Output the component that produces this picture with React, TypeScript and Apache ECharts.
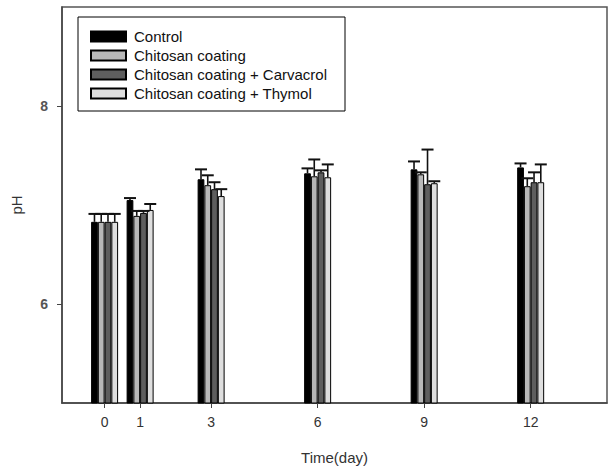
import React, { useEffect, useRef } from "react";
import * as echarts from "echarts";

const days = [0, 1, 3, 6, 9, 12];
const seriesNames = [
  "Control",
  "Chitosan coating",
  "Chitosan coating + Carvacrol",
  "Chitosan coating + Thymol",
];
const controlValues = [6.83, 7.05, 7.26, 7.32, 7.36, 7.38];
const controlErrors = [0.08, 0.02, 0.1, 0.05, 0.08, 0.04];
const chitosanValues = [6.83, 6.89, 7.2, 7.29, 7.31, 7.19];
const chitosanErrors = [0.08, 0.05, 0.1, 0.17, 0.02, 0.08];
const carvacrolValues = [6.83, 6.92, 7.16, 7.33, 7.21, 7.23];
const carvacrolErrors = [0.08, 0.02, 0.07, 0.02, 0.35, 0.1];
const thymolValues = [6.83, 6.95, 7.09, 7.28, 7.22, 7.23];
const thymolErrors = [0.08, 0.06, 0.07, 0.13, 0.02, 0.18];
const yTicks = [6, 8];

const fills = ["#000000", "#b8b8b8", "#5e5e5e", "#dedede"];
const BAR_W = 6.75;
const FONT = "Liberation Sans, Arial, sans-serif";

export default function App() {
  const ref = useRef<HTMLDivElement>(null);
  useEffect(() => {
    if (!ref.current) return;
    const chart = echarts.init(ref.current, undefined, { renderer: "svg" });
    const allValues = [controlValues, chitosanValues, carvacrolValues, thymolValues];
    const allErrors = [controlErrors, chitosanErrors, carvacrolErrors, thymolErrors];

    const barSeries = allValues.map((vals, si) => ({
      name: seriesNames[si],
      type: "bar",
      barWidth: BAR_W,
      barGap: "0%",
      itemStyle: { color: fills[si], borderColor: "#000", borderWidth: 1 },
      data: days.map((d, i) => [d, vals[i]]),
    }));

    const errSeries = allValues.map((vals, si) => ({
      type: "custom",
      name: "err" + si,
      z: 3,
      encode: { x: 0, y: 1 },
      data: days.map((d, i) => [d, vals[i], allErrors[si][i]]),
      renderItem: (params: any, api: any) => {
        const x = api.value(0);
        const y = api.value(1);
        const e = api.value(2);
        const p0 = api.coord([x, y]);
        const p1 = api.coord([x, y + e]);
        const cx = p0[0] + (si - 1.5) * BAR_W;
        const half = 6;
        const st = { stroke: "#111", lineWidth: 1.6 };
        return {
          type: "group",
          children: [
            { type: "line", shape: { x1: cx, y1: p0[1], x2: cx, y2: p1[1] }, style: st },
            { type: "line", shape: { x1: cx - half, y1: p1[1], x2: cx + half, y2: p1[1] }, style: { stroke: "#111", lineWidth: 2 } },
          ],
        };
      },
    }));

    chart.setOption({
      animation: false,
      backgroundColor: "#fff",
      grid: {
        left: 62,
        right: 1,
        top: 7,
        bottom: 66,
        show: true,
        borderColor: "#555",
        borderWidth: 1.5,
        backgroundColor: "transparent",
      },
      legend: {
        orient: "vertical",
        left: 78,
        top: 17,
        data: seriesNames,
        icon: "rect",
        itemWidth: 35,
        itemHeight: 10,
        itemGap: 2,
        padding: [11, 18, 9, 12],
        borderColor: "#000",
        borderWidth: 1,
        textStyle: { fontFamily: FONT, fontSize: 15, lineHeight: 17, color: "#111", padding: [0, 0, 0, 3] },
      },
      xAxis: {
        type: "value",
        min: -1.2,
        max: 14.15,
        name: "Time(day)",
        nameLocation: "middle",
        nameGap: 47,
        nameTextStyle: { fontFamily: FONT, fontSize: 15, color: "#333" },
        splitLine: { show: false },
        axisLine: { show: true, onZero: false, lineStyle: { color: "#444", width: 1.5 } },
        axisTick: { show: true, inside: false, length: 5, customValues: days, lineStyle: { color: "#444" } },
        axisLabel: { customValues: days, fontFamily: FONT, fontSize: 14, color: "#333", margin: 12 },
      },
      yAxis: {
        type: "value",
        min: 5,
        max: 9,
        name: "pH",
        nameLocation: "middle",
        nameGap: 38,
        nameTextStyle: { fontFamily: FONT, fontSize: 15, color: "#333" },
        splitLine: { show: false },
        axisLine: { show: true, onZero: false, lineStyle: { color: "#444", width: 1.5 } },
        axisTick: { show: true, inside: false, length: 5, customValues: yTicks, lineStyle: { color: "#444" } },
        axisLabel: { customValues: yTicks, fontFamily: FONT, fontSize: 14, fontWeight: "bold", color: "#555", margin: 14 },
      },
      series: [...barSeries, ...errSeries],
    });
    return () => chart.dispose();
  }, []);
  return (
    <div
      ref={ref}
      style={{ position: "fixed", left: 0, top: 0, width: 608, height: 470, background: "#fff" }}
    />
  );
}
